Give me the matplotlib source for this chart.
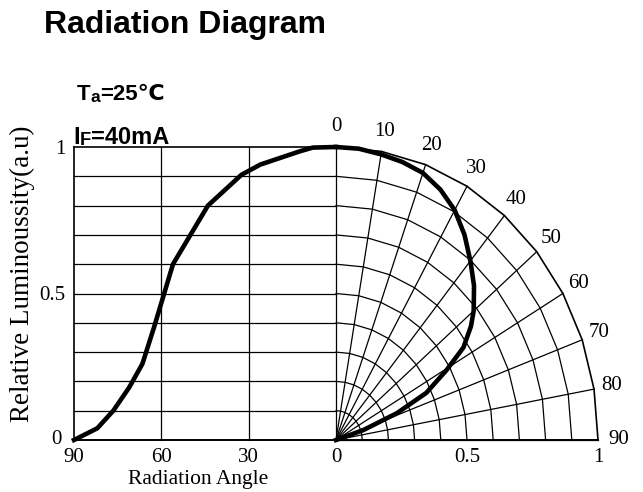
import numpy as np
import matplotlib.pyplot as plt
import matplotlib

matplotlib.rcParams.update({'font.size': 15, 'font.family': 'Liberation Serif'})
sans = ['Liberation Sans', 'DejaVu Sans']

# left half: relative luminosity against angle, drawn on a rectangular grid
rect_angle = [90, 82, 76.5, 71, 66.5, 62.5, 56, 44, 32.5, 26, 12.5, 8, 0]
rect_value = [0, 0.04, 0.10, 0.18, 0.26, 0.385, 0.60, 0.80, 0.905, 0.94, 0.985, 0.998, 1.0]

# right half: same measurement drawn on the polar quarter
polar_angle = [0, 5, 10, 15, 20, 25, 30, 35, 40, 45, 50, 53, 57, 60.5, 65, 68.5, 72, 73]
polar_r = [1.0, 0.998, 0.99, 0.982, 0.97, 0.943, 0.906, 0.855, 0.798, 0.745, 0.686,
           0.645, 0.58, 0.485, 0.38, 0.25, 0.11, 0.0]

grid_angles = np.arange(0, 91, 10)
grid_rings = np.arange(1, 11) / 10

x_ticks = [-1, -2 / 3, -1 / 3, 0, 0.5, 1]
x_labels = ['90', '60', '30', '0', '0.5', '1']
y_ticks = [0.5, 1]
y_labels = ['0.5', '1']

fig = plt.figure(figsize=(6.43, 4.92), dpi=100)
ax = fig.add_axes([74 / 643, 52 / 492, 524 / 643, 293 / 492])
ax.set_xlim(-1, 1)
ax.set_ylim(0, 1)
for s in ax.spines.values():
    s.set_visible(False)

lw = 0.9
# rectangular grid (left)
for y in grid_rings[:-1]:
    ax.plot([-1, 0], [y, y], color='k', lw=lw, clip_on=False)
for x in [-2 / 3, -1 / 3]:
    ax.plot([x, x], [0, 1], color='k', lw=lw, clip_on=False)
ax.plot([-1, -1], [0, 1], color='k', lw=1.2, clip_on=False)
ax.plot([-1, 0], [1, 1], color='k', lw=1.2, clip_on=False)
ax.plot([-1, 1], [0, 0], color='k', lw=1.4, clip_on=False)

# polar grid (right)
th = np.radians(grid_angles)
for a in th:
    ax.plot([0, np.sin(a)], [0, np.cos(a)], color='k', lw=lw, clip_on=False)
for r in grid_rings:
    ax.plot(r * np.sin(th), r * np.cos(th), color='k', lw=1.2 if r == 1 else lw, clip_on=False)
for a in grid_angles:
    t = np.radians(a)
    rr = 1.07 if a < 90 else 1.08
    ax.text(rr * np.sin(t), rr * np.cos(t), str(a), ha='center', va='center', fontsize=15)

# curves
ax.plot(-np.array(rect_angle) / 90, rect_value, color='k', lw=3.3, clip_on=False,
        solid_joinstyle='round')
pa = np.radians(polar_angle)
ax.plot(np.array(polar_r) * np.sin(pa), np.array(polar_r) * np.cos(pa), color='k', lw=3.3,
        clip_on=False, solid_joinstyle='round')

ax.set_xticks(x_ticks)
ax.set_xticklabels(x_labels)
ax.set_yticks(y_ticks)
ax.set_yticklabels(y_labels)
ax.tick_params(length=0, pad=6, labelsize=15)
# the y "0" sits a little further left so it clears the "90"
ax.annotate('0', xy=(-1, 0), xytext=(-9, 0), textcoords='offset points',
            ha='right', va='center', fontsize=15)
ax.set_xlabel('Radiation Angle', fontsize=15.5)
ax.xaxis.set_label_coords((198 - 74) / 524, -0.103)
ax.set_ylabel('Relative Luminoussity(a.u)', fontsize=19.5)
ax.yaxis.set_label_coords(-0.075, 0.568)

# title and test conditions
fig.text(44 / 643, 1 - 33 / 492, 'Radiation Diagram', fontsize=23, fontweight='bold',
         family=sans, va='baseline')


def cond(x, y, main, sub, rest, size):
    t1 = fig.text(x, y, main, fontsize=size, fontweight='bold', family=sans, va='baseline')
    t2 = ax.annotate(sub, xy=(1, 0), xycoords=t1, fontsize=size * 0.78, fontweight='bold',
                     family=sans, va='bottom', ha='left', annotation_clip=False)
    ax.annotate(rest, xy=(1, 0), xycoords=(t2, t1), fontsize=size, fontweight='bold',
                family=sans, va='bottom', ha='left', annotation_clip=False)


cond(77 / 643, 1 - 100 / 492, 'T', 'a', '=25\u2103', 16)
cond(73 / 643, 1 - 144 / 492, 'I', 'F', '=40mA', 17)

fig.savefig('out.png', dpi=100)
